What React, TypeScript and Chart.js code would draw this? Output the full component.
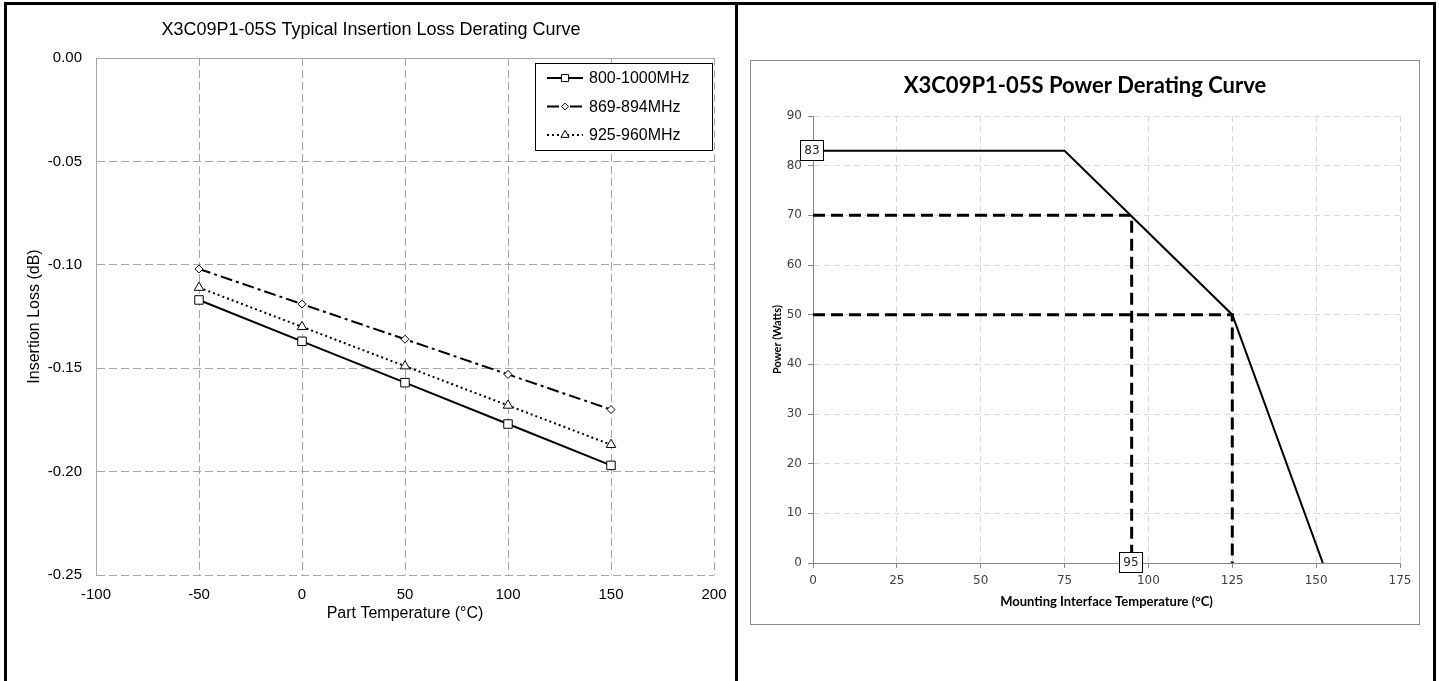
import React, { useEffect, useRef } from "react";
import { Chart, registerables } from "chart.js";

Chart.register(...registerables);

// ---------- Left chart data ----------
const partTemps = [-50, 0, 50, 100, 150];
const loss800to1000 = [-0.117, -0.137, -0.157, -0.177, -0.197];
const loss869to894 = [-0.102, -0.119, -0.136, -0.153, -0.170];
const loss925to960 = [-0.111, -0.130, -0.149, -0.168, -0.187];
const lossLabels = ["800-1000MHz", "869-894MHz", "925-960MHz"];

// ---------- Right chart data ----------
const curveTemps = [0, 75, 125, 152];
const curveWatts = [83, 83, 50, 0];
const ref70Temps = [0, 95, 95];
const ref70Watts = [70, 70, 0];
const ref50Temps = [0, 125, 125];
const ref50Watts = [50, 50, 0];
const calloutTemps = [0, 95];
const calloutWatts = [83, 0];
const calloutTexts = ["83", "95"];

const ARIAL = '"Liberation Sans", Arial, sans-serif';
const TAHOMA = '"DejaVu Sans", Verdana, sans-serif';
const CALIBRI = 'Lato, "Open Sans", sans-serif';

const toPts = (xs: number[], ys: number[]) => xs.map((x, i) => ({ x, y: ys[i] }));

function drawMarker(ctx: CanvasRenderingContext2D, style: string, x: number, y: number, r: number) {
  ctx.beginPath();
  if (style === "rect") {
    const s = r * Math.SQRT1_2;
    ctx.rect(x - s, y - s, 2 * s, 2 * s);
  } else if (style === "rectRot") {
    ctx.moveTo(x, y - r);
    ctx.lineTo(x + r, y);
    ctx.lineTo(x, y + r);
    ctx.lineTo(x - r, y);
    ctx.closePath();
  } else {
    let rad = 0;
    ctx.moveTo(x + Math.sin(rad) * r, y - Math.cos(rad) * r);
    rad += (2 * Math.PI) / 3;
    ctx.lineTo(x + Math.sin(rad) * r, y - Math.cos(rad) * r);
    rad += (2 * Math.PI) / 3;
    ctx.lineTo(x + Math.sin(rad) * r, y - Math.cos(rad) * r);
    ctx.closePath();
  }
  ctx.fillStyle = "#fff";
  ctx.fill();
  ctx.lineWidth = 1;
  ctx.strokeStyle = "#000";
  ctx.stroke();
}

const plotTopLinePlugin = {
  id: "plotTopLine",
  beforeDatasetsDraw(chart: any) {
    const { ctx, chartArea } = chart;
    ctx.save();
    ctx.strokeStyle = "#a6a6a6";
    ctx.lineWidth = 1;
    ctx.beginPath();
    ctx.moveTo(chartArea.left, Math.round(chartArea.top) + 0.5);
    ctx.lineTo(chartArea.right, Math.round(chartArea.top) + 0.5);
    ctx.stroke();
    ctx.restore();
  },
};

const lossLegendPlugin = {
  id: "lossLegend",
  afterDraw(chart: any) {
    const { ctx, chartArea } = chart;
    const w = 177;
    const h = 87;
    const bx = Math.round(chartArea.right - 2 - w);
    const by = Math.round(chartArea.top + 5);
    ctx.save();
    ctx.fillStyle = "#fff";
    ctx.fillRect(bx, by, w, h);
    ctx.strokeStyle = "#000";
    ctx.lineWidth = 1;
    ctx.strokeRect(bx + 0.5, by + 0.5, w, h);
    chart.data.datasets.forEach((ds: any, i: number) => {
      const y = by + 15 + i * 28.5;
      ctx.beginPath();
      ctx.setLineDash(ds.borderDash || []);
      ctx.lineWidth = ds.borderWidth;
      ctx.strokeStyle = "#000";
      ctx.moveTo(bx + 12, y);
      ctx.lineTo(bx + 48, y);
      ctx.stroke();
      ctx.setLineDash([]);
      drawMarker(ctx, ds.pointStyle, bx + 30, y, ds.pointRadius * 0.85);
      ctx.fillStyle = "#000";
      ctx.font = `16px ${ARIAL}`;
      ctx.textBaseline = "middle";
      ctx.textAlign = "left";
      ctx.fillText(ds.label, bx + 54, y + 1);
    });
    ctx.restore();
  },
};

const calloutPlugin = {
  id: "callouts",
  afterDatasetsDraw(chart: any) {
    const { ctx, scales } = chart;
    ctx.save();
    ctx.font = `12px ${TAHOMA}`;
    ctx.textAlign = "center";
    ctx.textBaseline = "middle";
    calloutTexts.forEach((t, i) => {
      const px = Math.round(scales.x.getPixelForValue(calloutTemps[i]));
      const py = Math.round(scales.y.getPixelForValue(calloutWatts[i]));
      const w = 23;
      const h = 20;
      const x0 = px - 13;
      const y0 = py - 11;
      ctx.fillStyle = "#fff";
      ctx.fillRect(x0, y0, w, h);
      ctx.strokeStyle = "#000";
      ctx.lineWidth = 1;
      ctx.strokeRect(x0 + 0.5, y0 + 0.5, w, h);
      ctx.fillStyle = "#222";
      ctx.fillText(t, x0 + w / 2 + 0.5, y0 + h / 2 + 1);
    });
    ctx.restore();
  },
};

function LossChart() {
  const ref = useRef<HTMLCanvasElement | null>(null);
  useEffect(() => {
    if (!ref.current) return;
    const common = {
      borderColor: "#000",
      pointBackgroundColor: "#fff",
      pointBorderColor: "#000",
      pointBorderWidth: 1,
      fill: false,
      tension: 0,
      yAxisID: "y",
    };
    const chart = new Chart(ref.current, {
      type: "line",
      data: {
        datasets: [
          { ...common, label: lossLabels[0], data: toPts(partTemps, loss800to1000), borderWidth: 2, borderDash: [], pointStyle: "rect", pointRadius: 6 },
          { ...common, label: lossLabels[1], data: toPts(partTemps, loss869to894), borderWidth: 2, borderDash: [12, 4, 3, 4], pointStyle: "rectRot", pointRadius: 4 },
          { ...common, label: lossLabels[2], data: toPts(partTemps, loss925to960), borderWidth: 2, borderDash: [2, 3], pointStyle: "triangle", pointRadius: 5.5 },
        ] as any,
      },
      options: {
        animation: false,
        responsive: true,
        maintainAspectRatio: false,
        layout: { padding: 0 },
        plugins: {
          legend: { display: false },
          tooltip: { enabled: false },
          title: {
            display: true,
            text: "X3C09P1-05S Typical Insertion Loss Derating Curve",
            color: "#000",
            font: { family: ARIAL, size: 18, weight: "normal" },
            padding: { top: 14.2, bottom: 17.2 },
          },
        },
        scales: {
          x: {
            type: "linear",
            min: -100,
            max: 200,
            ticks: { stepSize: 50, color: "#000", font: { family: ARIAL, size: 15 }, padding: 2.5, maxRotation: 0, autoSkip: false },
            grid: { color: "#a6a6a6", drawTicks: true, tickLength: 8, tickColor: "rgba(0,0,0,0)", lineWidth: 1 },
            border: { display: false, dash: [8, 4] },
            title: { display: true, text: "Part Temperature (°C)", color: "#000", font: { family: ARIAL, size: 16 }, padding: { top: 0, bottom: 57.4 } },
            afterFit: (s: any) => { s.height = 106; },
          },
          y: {
            type: "linear",
            position: "left",
            min: -0.25,
            max: 0,
            ticks: { stepSize: 0.05, color: "#000", font: { family: ARIAL, size: 15 }, padding: 14, callback: (v: any) => Number(v).toFixed(2) },
            grid: { color: "#a6a6a6", drawTicks: false, lineWidth: 1 },
            border: { display: true, color: "#a6a6a6", dash: [8, 4] },
            title: { display: true, text: "Insertion Loss (dB)", color: "#000", font: { family: ARIAL, size: 16 }, padding: { top: 18.4, bottom: 0 } },
            afterFit: (s: any) => { s.width = 89; },
          },
          yRight: {
            type: "linear",
            position: "right",
            display: true,
            grid: { display: false, drawTicks: false },
            ticks: { display: false },
            border: { display: false },
            afterFit: (s: any) => { s.width = 21; },
          },
        },
      } as any,
      plugins: [plotTopLinePlugin, lossLegendPlugin],
    });
    return () => chart.destroy();
  }, []);
  return <canvas ref={ref} style={{ display: "block" }} />;
}

function PowerChart() {
  const ref = useRef<HTMLCanvasElement | null>(null);
  useEffect(() => {
    if (!ref.current) return;
    const chart = new Chart(ref.current, {
      type: "line",
      data: {
        datasets: [
          { data: toPts(ref70Temps, ref70Watts), borderColor: "#000", borderWidth: 3, borderDash: [12, 6], pointRadius: 0, fill: false, yAxisID: "y" },
          { data: toPts(ref50Temps, ref50Watts), borderColor: "#000", borderWidth: 3, borderDash: [12, 6], pointRadius: 0, fill: false, yAxisID: "y" },
          { data: toPts(curveTemps, curveWatts), borderColor: "#000", borderWidth: 2, pointRadius: 0, fill: false, yAxisID: "y" },
        ] as any,
      },
      options: {
        animation: false,
        responsive: true,
        maintainAspectRatio: false,
        layout: { padding: 0 },
        plugins: {
          legend: { display: false },
          tooltip: { enabled: false },
          title: {
            display: true,
            text: "X3C09P1-05S Power Derating Curve",
            color: "#000",
            font: { family: CALIBRI, size: 22, weight: "bold" },
            padding: { top: 11.8, bottom: 16.8 },
          },
        },
        scales: {
          x: {
            type: "linear",
            min: 0,
            max: 175,
            ticks: { stepSize: 25, color: "#404040", font: { family: TAHOMA, size: 12 }, padding: 6, maxRotation: 0, autoSkip: false },
            grid: { color: "#d9d9d9", tickColor: "#868686", tickLength: 5, tickBorderDash: [], lineWidth: 1 },
            border: { display: true, color: "#868686", dash: [6, 4] },
            title: { display: true, text: "Mounting Interface Temperature (°C)", color: "#000", font: { family: CALIBRI, size: 13, weight: "bold" }, padding: { top: 0, bottom: 14.2 } },
            afterFit: (s: any) => { s.height = 61; },
          },
          y: {
            type: "linear",
            position: "left",
            min: 0,
            max: 90,
            ticks: { stepSize: 10, color: "#404040", font: { family: TAHOMA, size: 12 }, padding: 6 },
            grid: { color: "#d9d9d9", tickColor: "#868686", tickLength: 5, tickBorderDash: [], lineWidth: 1 },
            border: { display: true, color: "#868686", dash: [6, 4] },
            title: { display: true, text: "Power (Watts)", color: "#000", font: { family: CALIBRI, size: 11, weight: "bold" }, padding: { top: 19.4, bottom: 0 } },
            afterFit: (s: any) => { s.width = 62; },
          },
          yRight: {
            type: "linear",
            position: "right",
            display: true,
            grid: { display: false, drawTicks: false },
            ticks: { display: false },
            border: { display: false },
            afterFit: (s: any) => { s.width = 19; },
          },
        },
      } as any,
      plugins: [calloutPlugin],
    });
    return () => chart.destroy();
  }, []);
  return <canvas ref={ref} style={{ display: "block" }} />;
}

export default function App() {
  return (
    <div>
      <div
        style={{
          position: "absolute",
          left: 4,
          top: 2,
          width: 1432,
          height: 679,
          boxSizing: "border-box",
          border: "3px solid #000",
          borderBottom: "none",
        }}
      />
      <div style={{ position: "absolute", left: 735, top: 2, width: 3, height: 679, background: "#000" }} />
      <div style={{ position: "absolute", left: 7, top: 5, width: 728, height: 676 }}>
        <LossChart />
      </div>
      <div
        style={{
          position: "absolute",
          left: 750,
          top: 60,
          width: 670,
          height: 565,
          boxSizing: "border-box",
          border: "1px solid #8c8c8c",
          background: "#fff",
        }}
      >
        <div style={{ position: "relative", width: 668, height: 563 }}>
          <PowerChart />
        </div>
      </div>
    </div>
  );
}
